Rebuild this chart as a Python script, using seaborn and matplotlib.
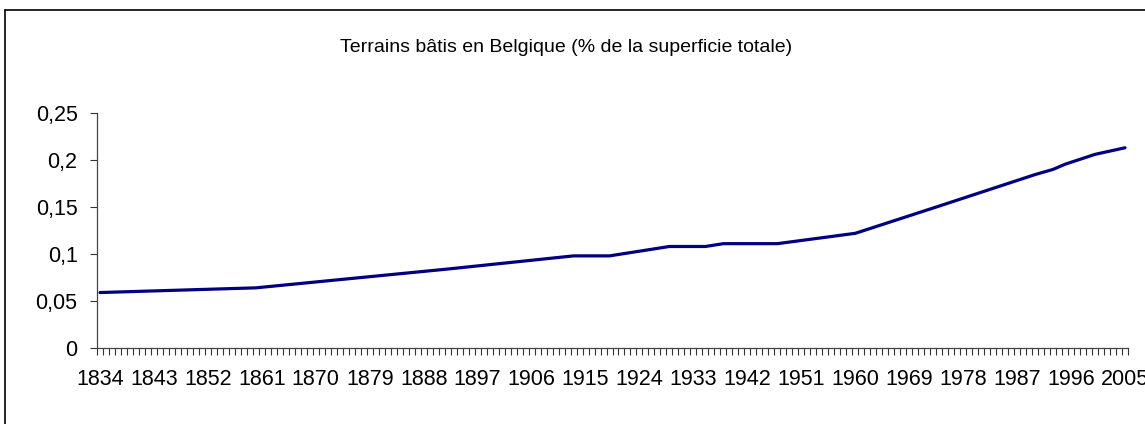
import matplotlib
matplotlib.use("Agg")
import matplotlib.pyplot as plt
import seaborn as sns
from matplotlib.lines import Line2D
from matplotlib.ticker import FixedLocator, FuncFormatter

# Values (break points of the line)
years = [1834, 1860, 1892, 1913, 1919, 1929, 1935, 1938, 1947, 1960,
         1974, 1990, 1993, 1995, 2000, 2005]
built_share = [0.059, 0.064, 0.084, 0.098, 0.098, 0.108, 0.108, 0.111, 0.111, 0.122,
               0.151, 0.1845, 0.190, 0.1955, 0.206, 0.213]

first_year = 1834
last_year = 2005
label_years = list(range(first_year, last_year + 1, 9))
y_ticks = [0, 0.05, 0.1, 0.15, 0.2, 0.25]
y_tick_labels = ["0", "0,05", "0,1", "0,15", "0,2", "0,25"]
title = "Terrains bâtis en Belgique (% de la superficie totale)"

sns.set_style("white")
plt.rcParams["font.family"] = ["Liberation Sans", "DejaVu Sans"]
plt.rcParams["text.color"] = "black"
plt.rcParams["xtick.labelcolor"] = "black"
plt.rcParams["ytick.labelcolor"] = "black"

W, H = 1145, 424
fig = plt.figure(figsize=(W / 100, H / 100), dpi=100)
ax = fig.add_axes([97 / W, (H - 348) / H, (1128 - 97) / W, (348 - 113) / H])

sns.lineplot(x=years, y=built_share, color="#000080", linewidth=2.3, ax=ax)

ax.set_xlim(first_year - 0.5, last_year + 0.5)
ax.set_ylim(0, 0.25)

# category boundaries as minor ticks, year labels every 9 years
ax.xaxis.set_minor_locator(FixedLocator([y - 0.5 for y in range(first_year, last_year + 2)]))
ax.xaxis.set_major_locator(FixedLocator(label_years))
ax.xaxis.set_major_formatter(FuncFormatter(lambda v, p: f"{int(round(v))}"))
ax.tick_params(axis="x", which="minor", length=5, width=0.8, color="#333333", direction="out")
ax.tick_params(axis="x", which="major", length=0, pad=15, labelsize=15.5, labelcolor="black")

ax.set_yticks(y_ticks)
ax.set_yticklabels(y_tick_labels)
ax.tick_params(axis="y", which="major", length=5, width=0.8, color="#333333",
               direction="out", pad=9, labelsize=15.5, labelcolor="black")
ax.tick_params(left=True, bottom=False, which="major")
ax.tick_params(axis="x", which="minor", bottom=True)

for side in ["top", "right"]:
    ax.spines[side].set_visible(False)
for side in ["left", "bottom"]:
    ax.spines[side].set_color("#444444")
    ax.spines[side].set_linewidth(0.9)

ax.set_xlabel("")
ax.set_ylabel("")

fig.text(566 / W, 1 - 48 / H, title, ha="center", va="center", fontsize=14, color="black")

# outer chart frame (only left and top edges fall inside the image)
fig.add_artist(Line2D([5 / W, 5 / W], [0, 1 - 10 / H], transform=fig.transFigure,
                      color="black", linewidth=1.2))
fig.add_artist(Line2D([5 / W, 1.0], [1 - 10 / H, 1 - 10 / H], transform=fig.transFigure,
                      color="black", linewidth=1.2))

fig.savefig("out.png", dpi=100)
